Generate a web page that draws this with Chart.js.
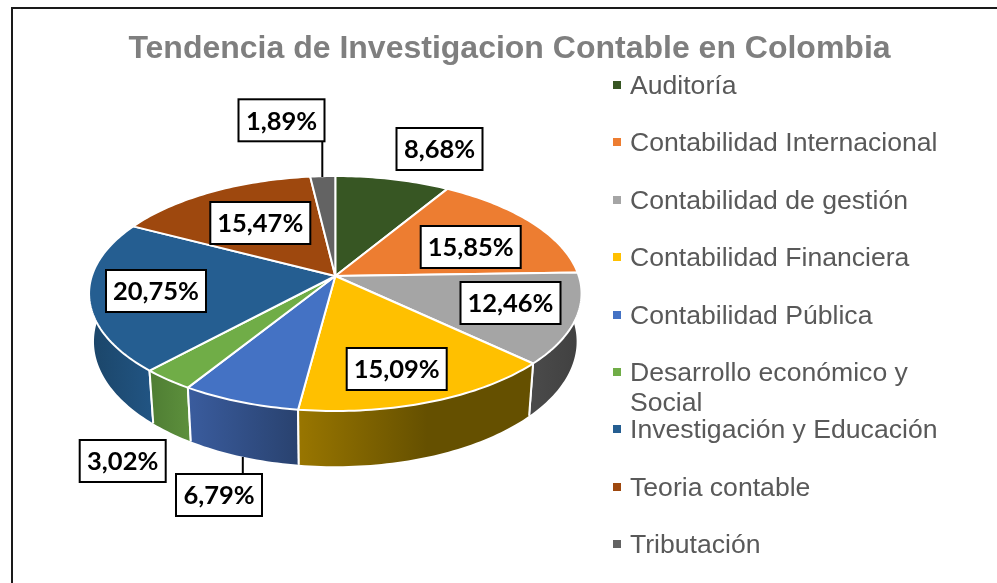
<!DOCTYPE html>
<html lang="es">
<head>
    <meta charset="UTF-8">
    <title>Tendencia de Investigacion Contable en Colombia</title>
    <script src="https://cdn.jsdelivr.net/npm/chart.js"></script>
    <style>
        html, body { margin: 0; padding: 0; width: 997px; height: 583px; overflow: hidden; background: #fff; }
        #frame { position: absolute; left: 11px; top: 7px; width: 1000px; height: 600px; border: 2px solid #1a1a1a; box-sizing: border-box; }
        #chart { position: absolute; left: 0; top: 0; }
        #legend { position: absolute; left: 0; top: 0; font-family: "Liberation Sans", Arial, sans-serif; font-size: 26.6px; color: #595959; }
        #legend div { position: absolute; left: 630px; width: 335px; line-height: 30px; }
        #legend span { position: absolute; left: -17px; top: 11px; width: 8px; height: 8px; }
    </style>
</head>
<body>
<div id="frame"></div>
<canvas id="chart" width="997" height="583"></canvas>
<div id="legend"></div>

<script>
    const categories = ['Auditoría', 'Contabilidad Internacional', 'Contabilidad de gestión', 'Contabilidad Financiera',
        'Contabilidad Pública', 'Desarrollo económico y Social', 'Investigación y Educación', 'Teoria contable', 'Tributación'];
    const values = [8.68, 15.85, 12.46, 15.09, 6.79, 3.02, 20.75, 15.47, 1.89];
    const topColors = ['#375623', '#ED7D31', '#A5A5A5', '#FFC000', '#4472C4', '#70AD47', '#255E91', '#9E480E', '#636363'];
    const wallLeft = ['#2a4119', '#8e4b1d', '#4a4a4a', '#997600', '#3a5c9e', '#4f7d33', '#1b4568', '#7a370a', '#3b3b3b'];
    const wallRight = ['#2a4119', '#8e4b1d', '#404040', '#655000', '#29426f', '#5c8f3c', '#215482', '#7a370a', '#3b3b3b'];

    // label box centres (same order as values)
    const labelCenters = [[439.5, 149], [470.7, 247], [510.5, 303], [396.7, 369], [219, 495], [122.7, 461], [156, 291], [260.3, 223], [281.5, 120.3]];
    const wideBox = 100, narrowBox = 86, boxH = 42;

    // tilted disc: projective map of the unit circle, the apex is not the ellipse centre
    const cx = 335.3, cy = 276, a = 243.5, b = 114.9, k = 0.149, depth = 47, bottomShrink = 0.98;

    function topPoint(angle) {
        const u = Math.cos(angle), v = Math.sin(angle), w = 1 - k * v;
        return [cx + a * u / w, cy + b * v / w, w];
    }

    function bottomPoint(angle) {
        const p = topPoint(angle);
        return [cx + (p[0] - cx) * bottomShrink, p[1] + depth / p[2]];
    }

    function arcSteps(start, end) {
        const n = Math.max(4, Math.ceil((end - start) * 50));
        const out = [];
        for (let i = 0; i <= n; i++) out.push(start + (end - start) * i / n);
        return out;
    }

    const pie3d = {
        id: 'pie3d',
        beforeDatasetsDraw(chart) {
            const ctx = chart.ctx;
            const arcs = chart.getDatasetMeta(0).data;
            ctx.save();
            ctx.lineJoin = 'round';
            ctx.strokeStyle = '#fff';
            ctx.lineWidth = 2;

            // walls, back to front
            const order = arcs.map((arc, i) => i).sort((p, q) =>
                Math.sin((arcs[p].startAngle + arcs[p].endAngle) / 2) - Math.sin((arcs[q].startAngle + arcs[q].endAngle) / 2));
            order.forEach(i => {
                const steps = arcSteps(arcs[i].startAngle, arcs[i].endAngle);
                const xs = steps.map(t => topPoint(t)[0]);
                const grad = ctx.createLinearGradient(Math.min(...xs), 0, Math.max(...xs), 0);
                grad.addColorStop(0, wallLeft[i]);
                grad.addColorStop(i === 3 ? 0.55 : 1, wallRight[i]);
                grad.addColorStop(1, wallRight[i]);
                ctx.beginPath();
                steps.forEach((t, j) => {
                    const p = topPoint(t);
                    j ? ctx.lineTo(p[0], p[1]) : ctx.moveTo(p[0], p[1]);
                });
                steps.slice().reverse().forEach(t => {
                    const p = bottomPoint(t);
                    ctx.lineTo(p[0], p[1]);
                });
                ctx.closePath();
                ctx.fillStyle = grad;
                ctx.fill();
                // only the slice edges are white on the wall, the outer silhouette is not
                steps.filter((t, j) => j === 0 || j === steps.length - 1).forEach(t => {
                    const p = topPoint(t), q = bottomPoint(t);
                    ctx.beginPath();
                    ctx.moveTo(p[0], p[1]);
                    ctx.lineTo(q[0], q[1]);
                    ctx.stroke();
                });
            });

            // top faces
            arcs.forEach((arc, i) => {
                ctx.beginPath();
                ctx.moveTo(cx, cy);
                arcSteps(arc.startAngle, arc.endAngle).forEach(t => {
                    const p = topPoint(t);
                    ctx.lineTo(p[0], p[1]);
                });
                ctx.closePath();
                ctx.fillStyle = topColors[i];
                ctx.fill();
                ctx.stroke();
            });
            ctx.restore();
            return false;
        },
        afterDraw(chart) {
            const ctx = chart.ctx;
            ctx.save();
            // leader lines
            ctx.strokeStyle = '#000';
            ctx.lineWidth = 2;
            [[322.3, 141, 322.3, 177], [242.8, 457, 242.8, 474]].forEach(l => {
                ctx.beginPath();
                ctx.moveTo(l[0], l[1]);
                ctx.lineTo(l[2], l[3]);
                ctx.stroke();
            });
            // value boxes
            ctx.font = 'bold 25.5px Lato, sans-serif';
            ctx.textAlign = 'center';
            ctx.textBaseline = 'middle';
            values.forEach((v, i) => {
                const w = v >= 10 ? wideBox : narrowBox;
                const c = labelCenters[i];
                ctx.fillStyle = '#fff';
                ctx.fillRect(c[0] - w / 2, c[1] - boxH / 2, w, boxH);
                ctx.strokeStyle = '#000';
                ctx.lineWidth = 2;
                ctx.strokeRect(c[0] - w / 2, c[1] - boxH / 2, w, boxH);
                ctx.fillStyle = '#000';
                ctx.fillText(v.toFixed(2).replace('.', ',') + '%', c[0], c[1] + 1);
            });
            ctx.restore();
        }
    };

    new Chart(document.getElementById('chart'), {
        type: 'pie',
        data: {
            labels: categories,
            datasets: [{ data: values, backgroundColor: topColors }]
        },
        options: {
            responsive: false,
            animation: false,
            layout: { padding: { left: 22 } },
            plugins: {
                legend: { display: false },
                tooltip: { enabled: false },
                title: {
                    display: true,
                    text: 'Tendencia de Investigacion Contable en Colombia',
                    color: '#7f7f7f',
                    font: { family: '"Liberation Sans", Arial, sans-serif', size: 32, weight: 'bold' },
                    padding: { top: 30, bottom: 10 }
                }
            }
        },
        plugins: [pie3d]
    });

    // legend; the wrapped entry pushes nothing, rows keep a fixed pitch as in the picture
    const legend = document.getElementById('legend');
    categories.forEach((name, i) => {
        const row = document.createElement('div');
        row.style.top = (70 + i * 57.4) + 'px';
        row.innerHTML = `<span style="background:${topColors[i]}"></span>${name}`;
        legend.appendChild(row);
    });
</script>
</body>
</html>
